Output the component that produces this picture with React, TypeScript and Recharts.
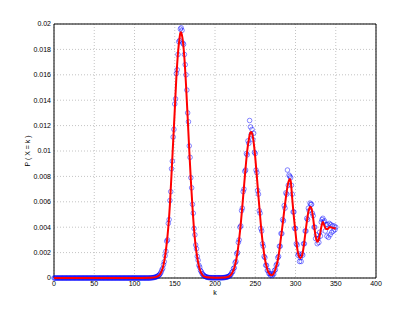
import {
  ComposedChart, Scatter, Line, XAxis, YAxis, CartesianGrid,
  ReferenceLine, Label,
} from "recharts";

// tick marks
const X_TICKS = [0, 50, 100, 150, 200, 250, 300, 350, 400];
const Y_TICKS = [0, 0.002, 0.004, 0.006, 0.008, 0.01, 0.012, 0.014, 0.016, 0.018, 0.02];

// blue circles, one per k = 0..350, values in units of 1e-4
const CIRCLE_P = [
  0, 0, 0, 0, 0, 0, 0, 0, 0, 0, 0, 0, 0, 0, 0, 0, 0, 0, 0, 0,
  0, 0, 0, 0, 0, 0, 0, 0, 0, 0, 0, 0, 0, 0, 0, 0, 0, 0, 0, 0,
  0, 0, 0, 0, 0, 0, 0, 0, 0, 0, 0, 0, 0, 0, 0, 0, 0, 0, 0, 0,
  0, 0, 0, 0, 0, 0, 0, 0, 0, 0, 0, 0, 0, 0, 0, 0, 0, 0, 0, 0,
  0, 0, 0, 0, 0, 0, 0, 0, 0, 0, 0, 0, 0, 0, 0, 0, 0, 0, 0, 0,
  0, 0, 0, 0, 0, 0, 0, 0, 0, 0, 0, 0, 0, 0, 0, 0, 0, 0, 0, 0,
  // 120
  0.1, 0.2, 0.2, 0.3, 0.4, 0.5, 0.7, 0.9, 1.2, 1.6,
  2, 2.6, 3.4, 4.6, 6.3, 7.5, 10.5, 12.8, 17.5, 21,
  // 140
  29, 30, 43, 46, 61, 68, 86, 92, 111, 117,
  137, 141, 161, 164, 176, 186, 187, 196, 197, 195,
  185, 184, 176, 168, 160, 148, 130, 123, 104, 95,
  79, 71, 58, 51, 39, 34, 26, 23, 17, 14,
  10, 8.5, 6, 5, 3.5, 2.8, 2, 1.5, 1.2, 0.9,
  // 190
  0.6, 0.5, 0.4, 0.3, 0.3, 0.2, 0.2, 0.2, 0.2, 0.2,
  0.2, 0.2, 0.2, 0.2, 0.2, 0.2, 0.2, 0.2, 0.2, 0.2,
  0.3, 0.3, 0.4, 0.5, 0.6, 0.8, 1, 1.3, 1.7, 2.3,
  // 220
  3, 4.5, 5, 7.5, 8, 12, 13, 19, 20, 28,
  30, 40, 41, 53, 55, 68, 70, 84, 85, 98,
  97, 108, 106, 124, 119, 113, 117, 109, 114, 99,
  98, 85, 83, 69, 66, 53, 51, 39, 37, 27,
  25, 17, 16, 10, 10, 6, 6, 3.5, 3.5, 2,
  3, 1.8, 3.5, 3, 6, 6.5, 10, 11, 16, 17,
  25, 25, 35, 35, 46, 45, 57, 55, 67, 66,
  85, 73, 81, 80, 79, 73, 66, 52, 52, 39,
  39, 27, 26, 18, 19, 13, 16, 13, 19, 18,
  27, 27, 37, 37, 47, 46, 55, 53, 59, 58,
  58, 51, 49, 40, 40, 31, 34, 27, 31, 28,
  36, 33, 44, 46, 47, 44, 45, 37, 42, 33,
  42, 32, 43, 34, 42, 36, 41, 37, 41, 38, 40,
];

// red fitted curve (k, value in 1e-4)
const LINE_K = [
  0, 110, 118, 122, 126, 128, 130, 132, 134, 136, 138, 140, 142, 144, 146, 148,
  150, 152, 154, 156, 157, 158, 159, 160, 162, 164, 166, 168, 170, 172, 174, 176,
  178, 180, 182, 184, 186, 190, 195, 200, 205, 210, 214, 218, 220, 222, 224, 226,
  228, 230, 232, 234, 236, 238, 240, 242, 244, 245, 246, 248, 250, 252, 254, 256,
  258, 260, 262, 264, 266, 268, 270, 272, 274, 276, 278, 280, 282, 284, 286, 288,
  290, 292, 293, 294, 296, 298, 300, 302, 304, 306, 308, 310, 312, 314, 316, 318,
  319, 320, 322, 324, 326, 327, 328, 330, 332, 334, 336, 338, 340, 342, 344, 346,
  348, 350,
];
const LINE_P = [
  0, 0, 0.1, 0.3, 0.7, 1.1, 1.7, 3.2, 5.8, 10.3, 17.2, 27, 40, 58, 82, 107,
  132, 158, 177, 189, 193, 193.5, 191, 187, 173, 152, 127, 101, 77, 56, 38, 25,
  16, 9.3, 5.2, 2.8, 1.4, 0.5, 0.3, 0.2, 0.2, 0.3, 0.6, 1.5, 2.7, 4.8, 8.1, 13.2,
  20.6, 30.7, 42.6, 56.8, 72, 86.7, 100, 109, 114.5, 115, 114, 107, 95, 80, 64, 49,
  35, 24, 15, 9, 5, 3, 2.2, 2.6, 5, 9, 14, 22, 32, 42, 53, 63,
  72, 77, 78, 76.5, 62, 48, 36, 24, 17.5, 15.5, 17.5, 24, 34, 44, 52, 56,
  56, 54.5, 46.5, 37, 30, 28.5, 29, 33, 40, 44, 41, 38.5, 38.5, 40, 40, 39.5,
  39.2, 39,
];

const circles = CIRCLE_P.map((v, i) => ({ k: i, p: v / 10000 }));
const curve = LINE_K.map((k, i) => ({ k, p: LINE_P[i] / 10000 }));

const FONT = "Liberation Sans, Arial, Helvetica, sans-serif";
const tickStyle = { fontSize: 7, fill: "#000", fontFamily: FONT };

const Ring = (props: any) => (
  <circle cx={props.cx} cy={props.cy} r={2.3} fill="none"
    stroke="#0000ff" strokeWidth={0.6} strokeOpacity={0.8} />
);

const yLabel = (props: any) => {
  const vb = props.viewBox;
  const x = vb.x + 27;
  const y = vb.y + vb.height / 2;
  return (
    <text x={x} y={y} transform={`rotate(-90 ${x} ${y})`} textAnchor="middle"
      dominantBaseline="central" fontSize={7} fontFamily={FONT} fill="#000">
      P ( X = k )
    </text>
  );
};

export default function App() {
  return (
    <div style={{ position: "absolute", left: 0, top: 0, width: 415, height: 312, background: "#fff" }}>
      <ComposedChart width={415} height={312}
        margin={{ top: 24, right: 39, bottom: 0, left: 0 }}>
        <CartesianGrid stroke="#c4c4c4" strokeDasharray="1 2" />
        <XAxis dataKey="k" type="number" domain={[0, 400]} ticks={X_TICKS}
          tick={tickStyle} tickLine={false} tickSize={3} tickMargin={0}
          axisLine={{ stroke: "#000" }} height={34} allowDuplicatedCategory={false}>
          <Label value="k" position="insideBottom" offset={17}
            style={{ fontSize: 7, fontFamily: FONT, fill: "#000" }} />
        </XAxis>
        <YAxis type="number" domain={[0, 0.02]} ticks={Y_TICKS}
          tickFormatter={(v: number) => String(v)}
          tick={tickStyle} tickLine={false} tickSize={3} tickMargin={0}
          axisLine={{ stroke: "#000" }} width={54}>
          <Label content={yLabel} />
        </YAxis>
        <ReferenceLine y={0.02} stroke="#000" />
        <ReferenceLine x={400} stroke="#000" />
        <Scatter data={circles} dataKey="p" shape={Ring} isAnimationActive={false} />
        <Line data={curve} dataKey="p" type="monotone" stroke="#ff0000"
          strokeWidth={2} dot={false} activeDot={false} isAnimationActive={false}
          zIndex={700} />
      </ComposedChart>
    </div>
  );
}
